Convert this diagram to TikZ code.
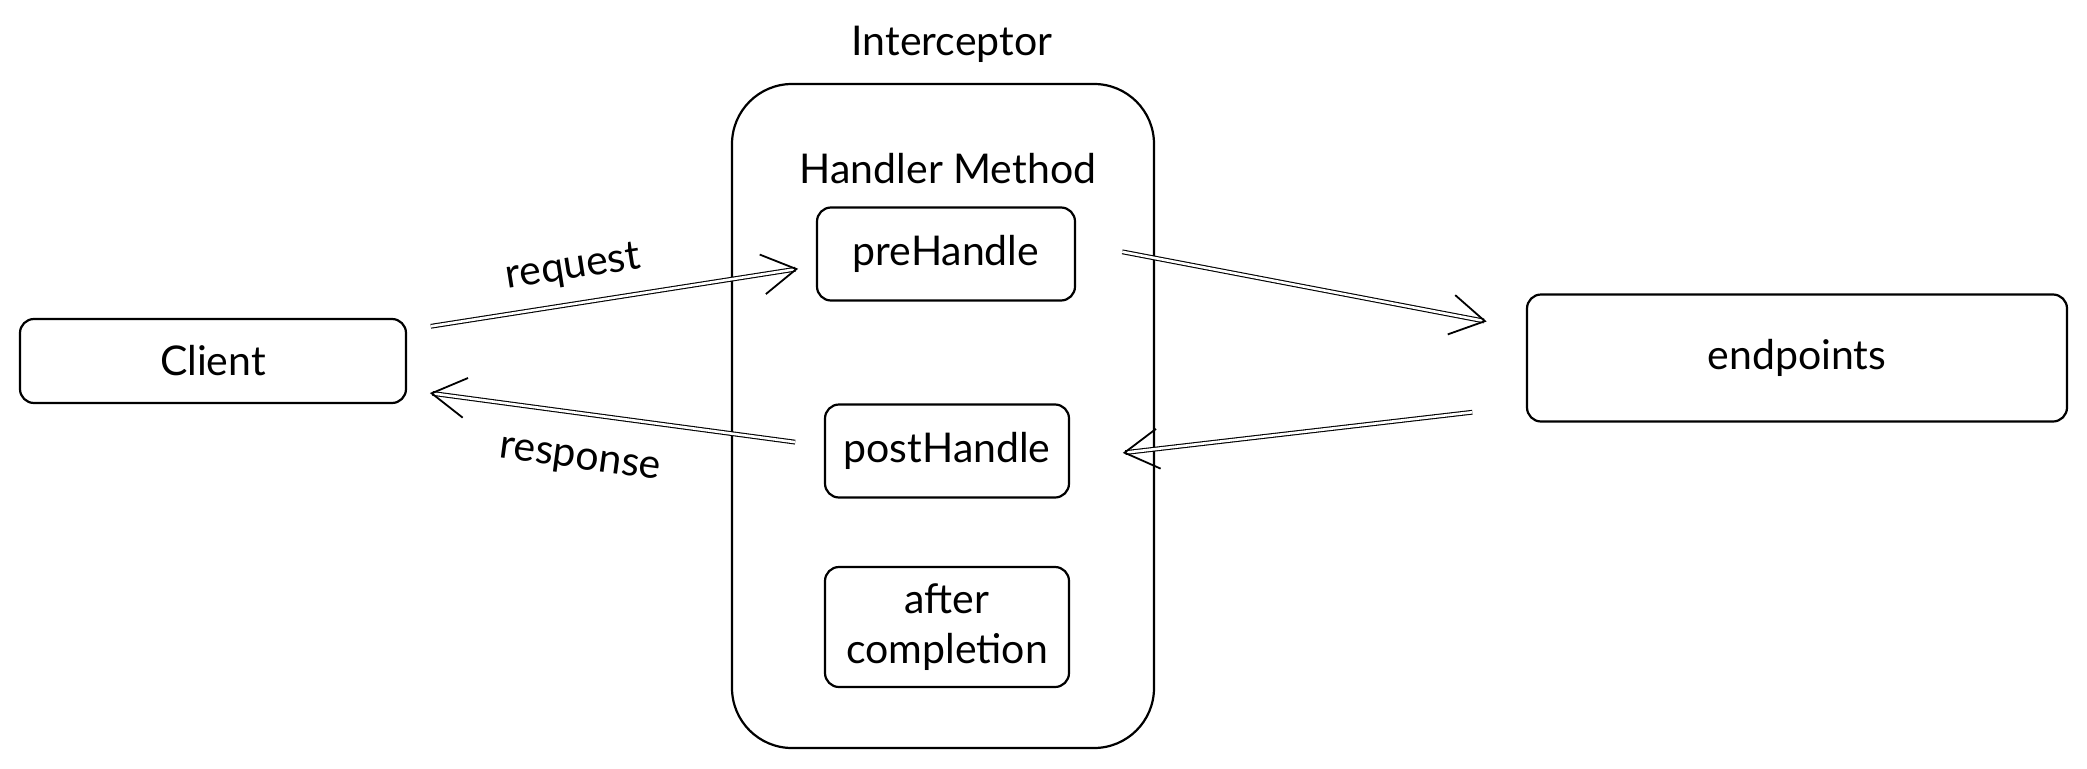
\documentclass[tikz,border=0pt]{standalone}
\usepackage{fontspec}
\setmainfont{Lato}
\usetikzlibrary{arrows.meta,calc}
\begin{document}
\begin{tikzpicture}[x=1pt,y=-1pt,
  box/.style={draw, line width=2.2pt, rounded corners=14pt, inner sep=0pt, align=center},
  lbl/.style={font=\fontsize{41}{50}\selectfont},
  flow/.style={double, double distance=2.6pt, line width=1.1pt,
    -{Straight Barb[length=34pt,width=40pt,line width=1.8pt]}},
]
\useasboundingbox (0,0) rectangle (2087,768);
\node[box, lbl, minimum width=386pt, minimum height=84pt] (client) at (213,361) {Client};
\node[box, rounded corners=60pt, minimum width=422pt, minimum height=664pt] (icpt) at (943,416) {};
\node[lbl] (title) at (952,44) {Interceptor};
\node[lbl] (hm) at (948,169) {Handler Method};
\node[box, lbl, minimum width=258pt, minimum height=93pt] (pre) at (946,254) {preHandle};
\node[box, lbl, minimum width=244pt, minimum height=93pt] (post) at (947,451) {postHandle};
\node[box, lbl, minimum width=244pt, minimum height=120pt] (after) at (947,627) {after\\completion};
\node[box, lbl, minimum width=540pt, minimum height=127pt] (endp) at (1797,358) {endpoints};

\draw[flow, shorten <=24pt, shorten >=18pt] ([yshift=31pt]client.east) -- ([yshift=-12pt]pre.west)
  node[lbl, pos=0.42, above=14pt, sloped] (req) {request};
\draw[flow, shorten <=29pt, shorten >=23pt] ([yshift=5pt]post.west) -- ([yshift=-29pt]client.east)
  node[lbl, pos=0.57, below=30pt, sloped] (resp) {response};
\draw[flow, shorten <=47pt, shorten >=40pt] ([yshift=11pt]pre.east) -- ([yshift=29pt]endp.west);
\draw[flow, shorten <=54pt, shorten >=53pt] ([yshift=-48pt]endp.west) -- ([yshift=-8pt]post.east);
\end{tikzpicture}
\end{document}
